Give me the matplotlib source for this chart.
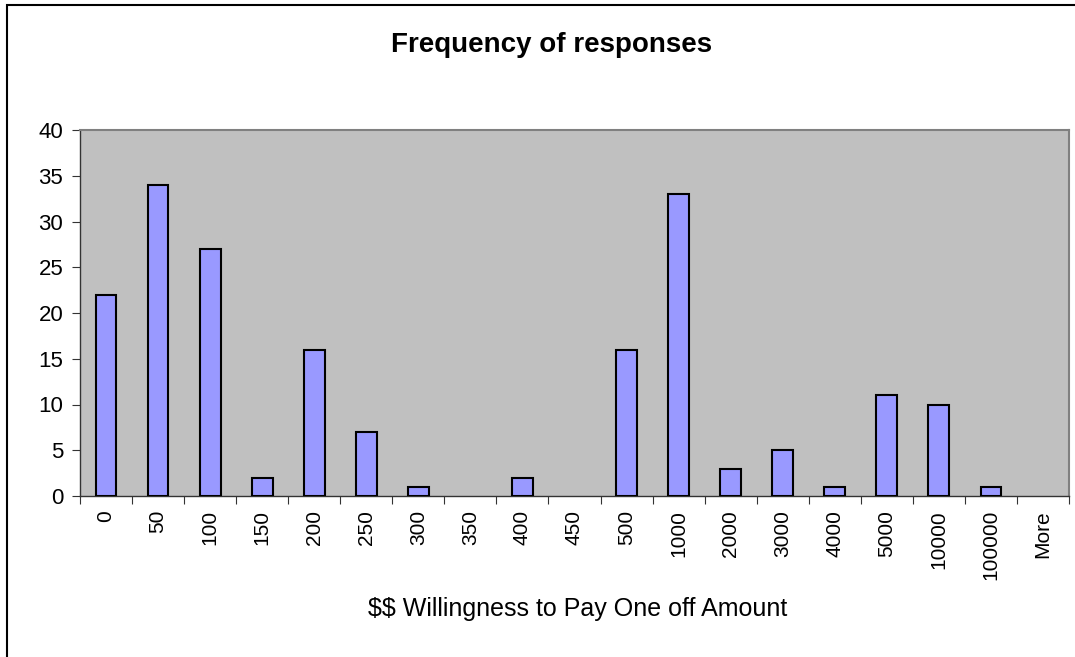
#!/usr/bin/env python3

import matplotlib
matplotlib.use("Agg")
import matplotlib.pyplot as plt
from matplotlib.patches import Rectangle
import numpy as np

# input data
categories = ["0", "50", "100", "150", "200", "250", "300", "350", "400", "450",
              "500", "1000", "2000", "3000", "4000", "5000", "10000", "100000", "More"]
counts = [22, 34, 27, 2, 16, 7, 1, 0, 2, 0, 16, 33, 3, 5, 1, 11, 10, 1, 0]

plt.rcParams['font.family'] = ['Liberation Sans', 'DejaVu Sans']

fig = plt.figure(figsize=(10.75, 6.57), dpi=100)
ax = fig.add_axes([80/1075, 1-496/657, (1069-80)/1075, (496-130)/657])

x = np.arange(len(categories))
# empty bins draw nothing (no flat outline)
edge_w = [1.5 if c > 0 else 0 for c in counts]
ax.bar(x, counts, width=0.4, color='#9999FF', edgecolor='black', linewidth=edge_w, zorder=3)

ax.set_facecolor('#C0C0C0')
for s in ax.spines.values():
    s.set_color('#808080')
    s.set_linewidth(1.5)
ax.spines['left'].set_color('#333333')
ax.spines['left'].set_linewidth(1)
ax.spines['bottom'].set_color('#333333')
ax.spines['bottom'].set_linewidth(1)

ax.set_xlim(-0.5, len(categories)-0.5)
ax.set_ylim(0, 40)
ax.set_yticks(range(0, 41, 5))
ax.tick_params(axis='y', labelsize=16, length=6, direction='out', pad=6, color='#333333')

# ticks at category boundaries, labels at centres
ax.set_xticks(np.arange(len(categories)+1) - 0.5)
ax.set_xticklabels([])
ax.set_xticks(x, minor=True)
ax.set_xticklabels(categories, minor=True, rotation=90, fontsize=15)
ax.tick_params(axis='x', which='major', length=6, direction='out', color='#333333')
ax.tick_params(axis='x', which='minor', length=0, pad=10)

fig.text(552/1075, 1-45/657, 'Frequency of responses', ha='center', va='center',
         fontsize=20, fontweight='bold')
fig.text(578/1075, 1-609/657, r'\$\$ Willingness to Pay One off Amount', ha='center',
         va='center', fontsize=18)

# chart border (left and top edges visible)
fig.patches.append(Rectangle((7/1075, -0.1), 1.2, 1-5/657+0.1, transform=fig.transFigure,
                             fill=False, edgecolor='black', linewidth=1.5))

plt.savefig('out.png', dpi=100)
